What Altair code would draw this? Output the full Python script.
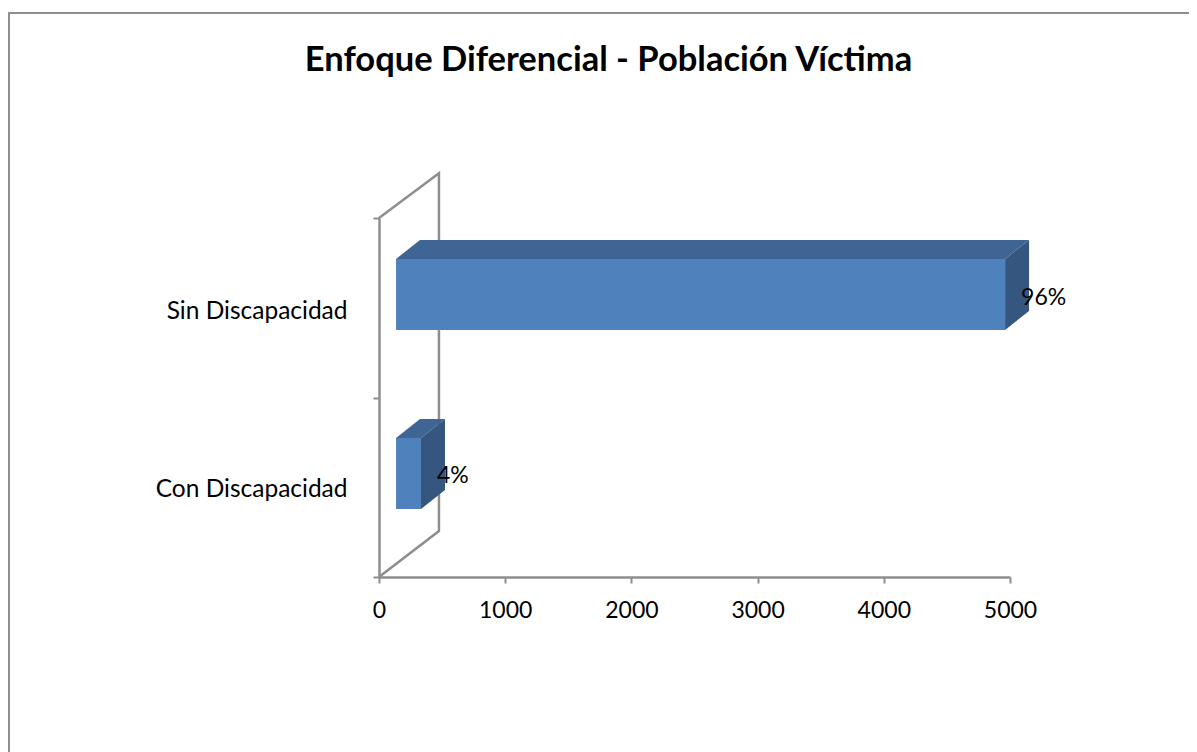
import altair as alt
import pandas as pd

categories = ["Con Discapacidad", "Sin Discapacidad"]
values = [198, 4826]
percents = ["4%", "96%"]
bar_low = [0.379, 1.376]
bar_high = [0.774, 1.772]
label_y = [0.565, 1.555]
cat_tick_pos = [0.49, 1.48]
x_ticks = [0, 1000, 2000, 3000, 4000, 5000]

wall_x = [0, 475, 475, 0]
wall_y = [2, 2.25, 0.256, 0]

BASE = 135
DX = 190
DY = 0.106
GRAY = "#8E8E8E"

front = pd.DataFrame({"cat": categories, "x0": [BASE] * 2,
                      "x1": [BASE + v for v in values],
                      "lo": bar_low, "hi": bar_high})
top_rows, side_rows, label_rows = [], [], []
for c, v, lo, hi, p, ly in zip(categories, values, bar_low, bar_high, percents, label_y):
    top_rows += [dict(cat=c, y=hi, a=BASE, b=BASE + v),
                 dict(cat=c, y=hi + DY, a=BASE + DX, b=BASE + v + DX)]
    side_rows += [dict(cat=c, x=BASE + v, lo=lo, hi=hi),
                  dict(cat=c, x=BASE + v + DX, lo=lo + DY, hi=hi + DY)]
    label_rows.append(dict(x=BASE + v, y=ly, t=p))
top = pd.DataFrame(top_rows)
side = pd.DataFrame(side_rows)
labels = pd.DataFrame(label_rows)
wall = pd.DataFrame({"x": wall_x, "y": wall_y, "i": range(len(wall_x))})

FONT = "Lato"
xs = alt.Scale(domain=[0, 5000], nice=False)
ys = alt.Scale(domain=[0, 2], nice=False)

x_axis = alt.Axis(values=x_ticks, grid=False, title=None, domainColor=GRAY, domainWidth=2.5,
                  tickColor=GRAY, tickWidth=2, tickSize=6, labelFontSize=23, labelFont=FONT,
                  labelColor="#000000", labelPadding=16, labelFlush=False, labelOverlap=False,
                  format="d")
y_axis = alt.Axis(values=[0, cat_tick_pos[0], 1, cat_tick_pos[1], 2], grid=False, title=None,
                  domainColor=GRAY, domainWidth=2.5,
                  tickColor=GRAY, tickWidth=2, tickSize=6,
                  tickOpacity={"condition": {"test": "datum.value % 1 === 0", "value": 1}, "value": 0},
                  labelFontSize=24.5, labelFont=FONT, labelColor="#000000", labelPadding=26,
                  labelOverlap=False, labelLimit=320,
                  labelExpr=f"datum.value === {cat_tick_pos[0]} ? '{categories[0]}' : "
                            f"datum.value === {cat_tick_pos[1]} ? '{categories[1]}' : ''")

frame = alt.Chart(pd.DataFrame({"k": [0]})).mark_rect(
    fillOpacity=0, stroke=GRAY, strokeWidth=2
).encode(x=alt.value(-370), x2=alt.value(900), y=alt.value(-205), y2=alt.value(600))

wall_line = alt.Chart(wall).mark_line(color=GRAY, strokeWidth=2.5).encode(
    x=alt.X("x:Q", scale=xs, axis=x_axis),
    y=alt.Y("y:Q", scale=ys, axis=y_axis),
    order="i:Q",
)
front_face = alt.Chart(front).mark_rect(color="#4F81BD").encode(
    x=alt.X("x0:Q", scale=xs), x2="x1:Q",
    y=alt.Y("lo:Q", scale=ys), y2="hi:Q",
)
top_face = alt.Chart(top).mark_area(orient="horizontal", color="#3E6594").encode(
    y=alt.Y("y:Q", scale=ys), x=alt.X("a:Q", scale=xs), x2="b:Q", detail="cat:N",
)
side_face = alt.Chart(side).mark_area(orient="vertical", color="#35577F").encode(
    x=alt.X("x:Q", scale=xs), y=alt.Y("lo:Q", scale=ys), y2="hi:Q", detail="cat:N",
)
label_text = alt.Chart(labels).mark_text(
    align="left", baseline="middle", dx=16, fontSize=23, font=FONT, color="#000000"
).encode(x=alt.X("x:Q", scale=xs), y=alt.Y("y:Q", scale=ys), text="t:N")

chart = alt.layer(frame, wall_line, top_face, side_face, front_face, label_text).properties(
    width=631, height=359,
    background="white",
    title=alt.TitleParams("Enfoque Diferencial - Población Víctima", font=FONT, fontSize=34.5,
                          fontWeight="bold", color="#000000", anchor="middle", dx=-86,
                          offset=-66),
    autosize=alt.AutoSizeParams(type="none"),
    padding={"left": 371, "top": 210, "right": 179, "bottom": 175},
).configure_view(stroke="transparent")

chart.save("out.html", embed_options={"renderer": "svg", "actions": False})
